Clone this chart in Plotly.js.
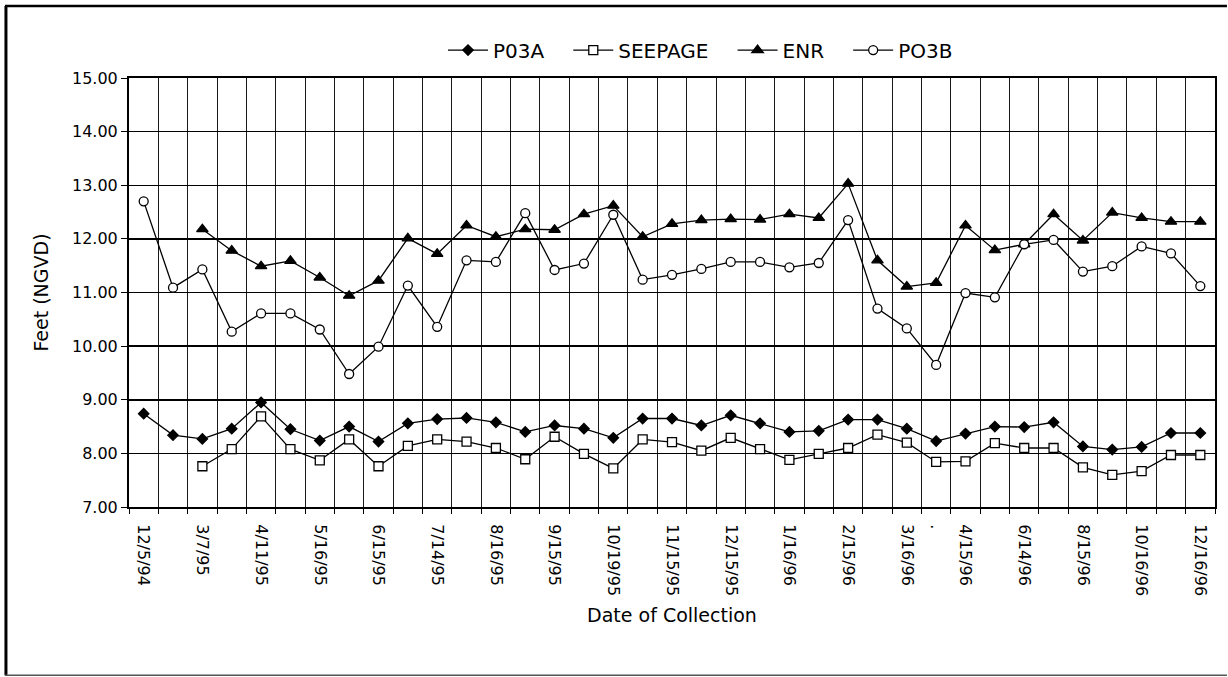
<!DOCTYPE html>
<html>
<head>
<meta charset="utf-8">
<script src="https://cdn.plot.ly/plotly-3.0.1.min.js"></script>
<style>html,body{margin:0;padding:0;background:#fff;}#chart{width:1228px;height:677px;}</style>
</head>
<body>
<div id="chart"></div>
<script>
// 37 sampling events (categories), labels shown on selected ones
var categoryCount = 37;
var labelIndex = [0, 2, 4, 6, 8, 10, 12, 14, 16, 18, 20, 22, 24, 26, 27, 28, 30, 32, 34, 36];
var labelText = ["12/5/94", "3/7/95", "4/11/95", "5/16/95", "6/15/95", "7/14/95", "8/16/95", "9/15/95",
  "10/19/95", "11/15/95", "12/15/95", "1/16/96", "2/15/96", "3/16/96", ".", "4/15/96", "6/14/96",
  "8/15/96", "10/16/96", "12/16/96"];
var seriesNames = ["P03A", "SEEPAGE", "ENR", "PO3B"];

var p03a = [8.74, 8.34, 8.27, 8.46, 8.95, 8.45, 8.24, 8.50, 8.22, 8.56,
  8.64, 8.66, 8.58, 8.40, 8.52, 8.46, 8.29, 8.65, 8.65, 8.52,
  8.71, 8.56, 8.40, 8.42, 8.63, 8.63, 8.46, 8.23, 8.37, 8.50,
  8.49, 8.58, 8.13, 8.07, 8.12, 8.38, 8.38];
var seepage = [null, null, 7.76, 8.08, 8.69, 8.08, 7.87, 8.26, 7.76, 8.14,
  8.26, 8.22, 8.10, 7.89, 8.31, 7.99, 7.72, 8.26, 8.21, 8.05,
  8.29, 8.08, 7.88, 7.99, 8.10, 8.35, 8.20, 7.84, 7.85, 8.19,
  8.10, 8.10, 7.74, 7.60, 7.67, 7.97, 7.97];
var enr = [null, null, 12.18, 11.78, 11.49, 11.59, 11.28, 10.94, 11.22, 12.01,
  11.72, 12.25, 12.04, 12.18, 12.17, 12.46, 12.62, 12.04, 12.28, 12.35,
  12.37, 12.36, 12.46, 12.39, 13.03, 11.60, 11.11, 11.18, 12.25, 11.79,
  11.90, 12.46, 11.97, 12.49, 12.39, 12.32, 12.32];
var po3b = [12.70, 11.09, 11.43, 10.27, 10.61, 10.61, 10.31, 9.48, 9.99, 11.13,
  10.36, 11.60, 11.57, 12.48, 11.42, 11.54, 12.45, 11.24, 11.33, 11.44,
  11.57, 11.57, 11.47, 11.55, 12.35, 10.70, 10.33, 9.65, 10.99, 10.91,
  11.90, 11.98, 11.39, 11.49, 11.86, 11.73, 11.12];

var idx = [];
for (var i = 0; i < categoryCount; i++) idx.push(i);
var boundaries = [];
for (var b = 0; b <= categoryCount; b++) boundaries.push(b - 0.5);

var pad = '\u00a0\u00a0\u00a0';
function series(name, y, symbol, fill, size) {
  return {
    type: 'scatter', mode: 'lines+markers', name: name + pad, x: idx, y: y,
    connectgaps: false,
    line: {color: '#000', width: 1.3},
    marker: {symbol: symbol, size: size, color: fill, line: {color: '#000', width: 1.3}}
  };
}

var traces = [
  series(seriesNames[0], p03a, 'diamond', '#000', 8),
  series(seriesNames[1], seepage, 'square', '#fff', 9),
  series(seriesNames[2], enr, 'triangle-up', '#000', 10),
  series(seriesNames[3], po3b, 'circle', '#fff', 9)
];

var fontFam = 'DejaVu Sans, Arial, sans-serif';

var layout = {
  width: 1228, height: 677,
  margin: {l: 129, r: 13, t: 78, b: 170},
  paper_bgcolor: '#fff', plot_bgcolor: '#fff',
  font: {family: fontFam, color: '#000', size: 16},
  showlegend: true,
  legend: {orientation: 'h', x: 0.535, xanchor: 'center', y: 1.065, yanchor: 'middle',
    font: {family: fontFam, size: 20, color: '#000'}, bgcolor: 'rgba(0,0,0,0)',
    itemwidth: 40, tracegroupgap: 0},
  xaxis: {
    range: [-0.5, categoryCount - 0.5],
    tickmode: 'array', tickvals: labelIndex, ticktext: labelText,
    tickangle: 90, ticks: '', showgrid: false, zeroline: false,
    ticklabelstandoff: 12,
    tickfont: {family: fontFam, size: 16, color: '#000'},
    showline: true, linecolor: '#000', linewidth: 2, mirror: true,
    minor: {tickmode: 'array', tickvals: boundaries, ticks: 'outside', ticklen: 5,
      tickcolor: '#000', tickwidth: 1, showgrid: true, gridcolor: '#1a1a1a', gridwidth: 1},
    title: {text: 'Date of Collection', font: {family: fontFam, size: 19, color: '#000'}, standoff: 14}
  },
  yaxis: {
    range: [7, 15], tickmode: 'linear', tick0: 7, dtick: 1,
    tickformat: '.2f', ticks: 'outside', ticklen: 6, tickcolor: '#000',
    showgrid: true, gridcolor: '#000', gridwidth: 1.5, zeroline: false,
    tickfont: {family: fontFam, size: 16, color: '#000'},
    showline: true, linecolor: '#000', linewidth: 2, mirror: true,
    title: {text: 'Feet (NGVD)', font: {family: fontFam, size: 19, color: '#000'}, standoff: 18}
  },
  shapes: [
    {type: 'line', xref: 'paper', yref: 'paper', x0: -0.1133, x1: -0.1133, y0: -0.392, y1: 1.168,
      line: {color: '#000', width: 3}},
    {type: 'line', xref: 'paper', yref: 'paper', x0: -0.1142, x1: 1.011, y0: 1.168, y1: 1.168,
      line: {color: '#000', width: 2.5}},
    {type: 'line', xref: 'paper', yref: 'paper', x0: -0.1142, x1: 1.011, y0: -0.392, y1: -0.392,
      line: {color: '#555', width: 1.5}}
  ]
};

Plotly.newPlot('chart', traces, layout, {staticPlot: true, displayModeBar: false});
</script>
</body>
</html>
